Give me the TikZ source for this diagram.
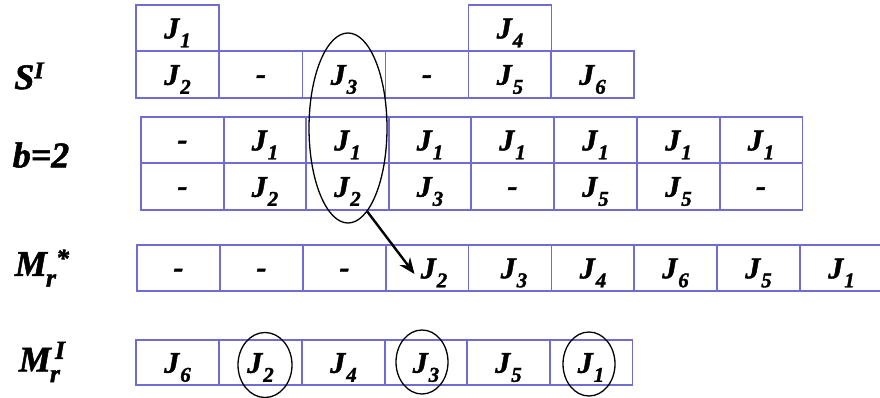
\documentclass[tikz,border=0pt]{standalone}
\usepackage{fontspec}
\setmainfont{Liberation Serif}[BoldItalicFeatures={FakeBold=1.5}]
\usetikzlibrary{shapes.geometric,arrows.meta}
\definecolor{boxc}{RGB}{112,108,210}
\newcommand{\lowr}[1]{\raisebox{-5pt}[\height][\depth]{#1}}
\newcommand{\Jn}[1]{\lowr{J\kern1pt\raisebox{-0.3em}{\fontsize{21}{21}\selectfont #1}}}
\newcommand{\dsh}{\lowr{-}}
\tikzset{
  cell/.style={draw=boxc, line width=1.1pt, minimum width=83pt, minimum height=46pt,
    inner sep=0pt, outer sep=0pt, font=\fontsize{30}{30}\selectfont\bfseries\itshape},
  lbl/.style={inner sep=0pt, font=\fontsize{36}{36}\selectfont\bfseries\itshape},
  ring/.style={ellipse, draw=black, line width=1.3pt, inner sep=0pt},
}
\begin{document}
\begin{tikzpicture}[x=1pt,y=-1pt]
\useasboundingbox (0,0) rectangle (880,398);
\begin{scope}
\clip (0,0) rectangle (880,398);
% S^I
\node[lbl] (lS) at (29,76) {S\raisebox{0.3em}{\fontsize{24}{24}\selectfont I}};
\node[cell] (s1t) at (177.5,28) {\Jn{1}};
\node[cell] (s5t) at (510,28) {\Jn{4}};
\node[cell,minimum height=47pt] (s1) at (177.5,74.5) {\Jn{2}};
\node[cell,minimum height=47pt] (s2) at (261,74.5) {\dsh};
\node[cell,minimum height=47pt] (s3) at (344,74.5) {\Jn{3}};
\node[cell,minimum height=47pt] (s4) at (427,74.5) {\dsh};
\node[cell,minimum height=47pt] (s5) at (510,74.5) {\Jn{5}};
\node[cell,minimum height=47pt] (s6) at (592.5,74.5) {\Jn{6}};
% b=2
\node[lbl] (lb) at (41,155) {b=2};
\node[cell] (a1) at (182.5,140) {\dsh};
\node[cell] (a2) at (265,140) {\Jn{1}};
\node[cell] (a3) at (347.5,140) {\Jn{1}};
\node[cell] (a4) at (430,140) {\Jn{1}};
\node[cell] (a5) at (512.5,140) {\Jn{1}};
\node[cell] (a6) at (595.5,140) {\Jn{1}};
\node[cell] (a7) at (678.5,140) {\Jn{1}};
\node[cell] (a8) at (761,140) {\Jn{1}};
\node[cell,minimum height=47pt] (b1) at (182.5,186.5) {\dsh};
\node[cell,minimum height=47pt] (b2) at (265,186.5) {\Jn{2}};
\node[cell,minimum height=47pt] (b3) at (347.5,186.5) {\Jn{2}};
\node[cell,minimum height=47pt] (b4) at (430,186.5) {\Jn{3}};
\node[cell,minimum height=47pt] (b5) at (512.5,186.5) {\dsh};
\node[cell,minimum height=47pt] (b6) at (595.5,186.5) {\Jn{5}};
\node[cell,minimum height=47pt] (b7) at (678.5,186.5) {\Jn{5}};
\node[cell,minimum height=47pt] (b8) at (761,186.5) {\dsh};
% M_r*
\node[lbl] (lM) at (42,268) {M\kern-1pt\raisebox{-0.3em}{\fontsize{26}{26}\selectfont r}\raisebox{0.25em}{\fontsize{26}{26}\selectfont *}};
\node[cell] (m1) at (178.5,268) {\dsh};
\node[cell] (m2) at (261.5,268) {\dsh};
\node[cell] (m3) at (344.5,268) {\dsh};
\node[cell] (m4) at (427,268) {\hspace*{14pt}\Jn{2}};
\node[cell] (m5) at (510,268) {\hspace*{8pt}\Jn{3}};
\node[cell] (m6) at (593,268) {\Jn{4}};
\node[cell] (m7) at (675.5,268) {\Jn{6}};
\node[cell] (m8) at (758.5,268) {\Jn{5}};
\node[cell] (m9) at (841.5,268) {\Jn{1}};
% M_r^I
\node[lbl] (lI) at (42,362) {M\kern-1pt\raisebox{-0.3em}{\fontsize{26}{26}\selectfont r}\kern-5pt\raisebox{0.35em}{\fontsize{26}{26}\selectfont I}};
\node[cell,minimum height=45pt] (r1) at (177.5,362.5) {\Jn{6}};
\node[cell,minimum height=45pt] (r2) at (260.5,362.5) {\Jn{2}};
\node[cell,minimum height=45pt] (r3) at (343.5,362.5) {\Jn{4}};
\node[cell,minimum height=45pt] (r4) at (426,362.5) {\Jn{3}};
\node[cell,minimum height=45pt] (r5) at (508.5,362.5) {\Jn{5}};
\node[cell,minimum height=45pt] (r6) at (591,362.5) {\Jn{1}};
% ellipses
\node[ring, minimum width=78pt, minimum height=190pt] (ell) at (348,128) {};
\node[ring, minimum width=54pt, minimum height=65pt] (c2) at (265,365) {};
\node[ring, minimum width=52pt, minimum height=64pt] (c3) at (422,362) {};
\node[ring, minimum width=52pt, minimum height=64pt] (c1) at (589,364) {};
% arrow
\coordinate (tip) at ([xshift=29pt,yshift=-6pt]m4.west);
\draw[line width=2.4pt, -{Stealth[length=16pt,width=13pt]}] (ell.-77) -- (tip);
\end{scope}
\end{tikzpicture}
\end{document}
